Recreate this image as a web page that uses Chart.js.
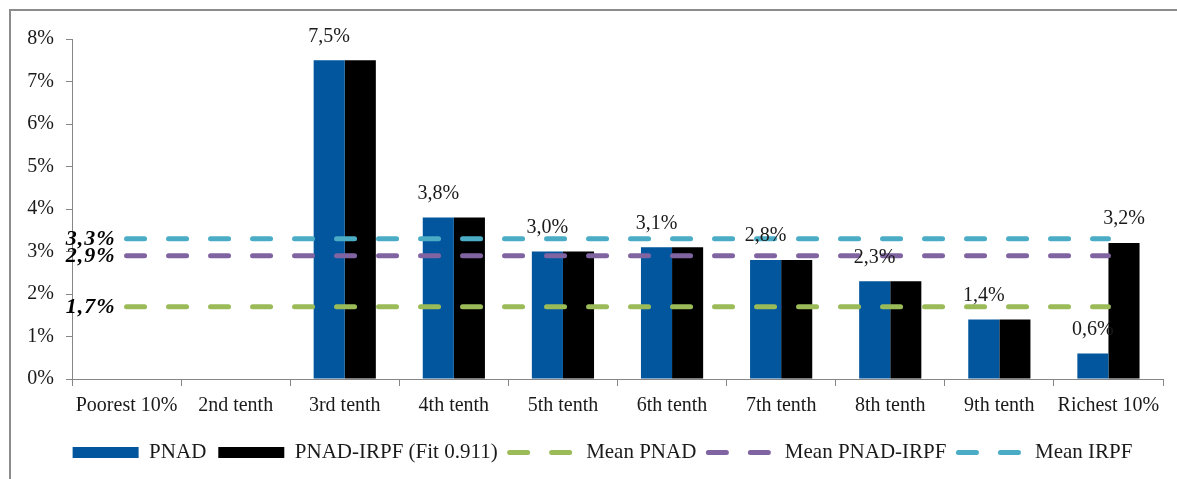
<!DOCTYPE html>
<html>
<head>
<meta charset="utf-8">
<script src="https://cdn.jsdelivr.net/npm/chart.js@4.4.1/dist/chart.umd.min.js"></script>
<style>
  html, body { margin: 0; padding: 0; background: #fff; }
  #wrap { position: relative; width: 1177px; height: 479px; overflow: hidden; }
  #frame { position: absolute; left: 9px; top: 9px; width: 1300px; height: 600px;
           border-top: 2px solid #8c8c8c; border-left: 2px solid #8c8c8c; }
  canvas { position: absolute; left: 0; top: 0; }
</style>
</head>
<body>
<div id="wrap">
  <div id="frame"></div>
  <canvas id="c" width="1177" height="479"></canvas>
</div>
<script>
// Income tenths
const categories = ['Poorest 10%', '2nd tenth', '3rd tenth', '4th tenth', '5th tenth',
                    '6th tenth', '7th tenth', '8th tenth', '9th tenth', 'Richest 10%'];

// Shares by tenth (%)
const pnad     = [null, null, 7.5, 3.8, 3.0, 3.1, 2.8, 2.3, 1.4, 0.6];
const pnadIrpf = [null, null, 7.5, 3.8, 3.0, 3.1, 2.8, 2.3, 1.4, 3.2];

// Means (%)
const meanPnad     = [1.7, 1.7, 1.7, 1.7, 1.7, 1.7, 1.7, 1.7, 1.7, 1.7];
const meanPnadIrpf = [2.9, 2.9, 2.9, 2.9, 2.9, 2.9, 2.9, 2.9, 2.9, 2.9];
const meanIrpf     = [3.3, 3.3, 3.3, 3.3, 3.3, 3.3, 3.3, 3.3, 3.3, 3.3];

// Y axis range
const yMin = 0, yMax = 8, yStep = 1;

const FONT = '"Liberation Serif", "DejaVu Serif", serif';
const AXIS = '#868686';
const TEXT = '#1a1a1a';
const DASH = [18, 24];
const fmt = v => v.toFixed(1).replace('.', ',') + '%';

// Value labels above bars and at the start of each mean line
const labelPlugin = {
  id: 'valueLabels',
  afterDatasetsDraw(chart) {
    const ctx = chart.ctx;
    ctx.save();
    ctx.fillStyle = TEXT;
    ctx.textAlign = 'center';
    ctx.textBaseline = 'middle';
    ctx.font = '20px ' + FONT;
    const m0 = chart.getDatasetMeta(0), m1 = chart.getDatasetMeta(1);
    pnad.forEach((v, i) => {
      if (v) {
        const b = m0.data[i];
        ctx.fillText(fmt(v), b.x, b.y - 24);
      }
      const w = pnadIrpf[i];
      if (w && w !== v) {
        const b = m1.data[i];
        ctx.fillText(fmt(w), b.x, b.y - 24);
      }
    });
    ctx.textAlign = 'right';
    ctx.font = 'italic bold 22px ' + FONT;
    ctx.fillStyle = '#000';
    if ('letterSpacing' in ctx) ctx.letterSpacing = '1px';
    [2, 3, 4].forEach(di => {
      const p = chart.getDatasetMeta(di).data[0];
      const v = chart.data.datasets[di].data[0];
      ctx.fillText(fmt(v), p.x - 11, p.y + 1);
    });
    ctx.restore();
  }
};

// Centre the legend row under the plot rather than under the whole canvas
const legendOffset = {
  id: 'legendOffset',
  afterLayout(chart) {
    if (chart.legend) chart.legend.left = 42;
  }
};

const lineDs = (label, data, color) => ({
  type: 'line', label, data, order: 0,
  borderColor: color, backgroundColor: color,
  borderWidth: 5, borderDash: DASH, borderCapStyle: 'round',
  pointRadius: 0, pointHoverRadius: 0, fill: false, tension: 0
});

const legendLabels = chart => {
  const items = Chart.defaults.plugins.legend.labels.generateLabels(chart);
  items.forEach(it => {
    const ds = chart.data.datasets[it.datasetIndex];
    if (ds.type === 'line') {
      it.pointStyle = 'line';
      it.lineDash = DASH;
      it.lineCap = 'round';
      it.lineWidth = 5;
      it.strokeStyle = ds.borderColor;
      it.fillStyle = ds.borderColor;
    } else {
      it.pointStyle = 'rect';
      it.lineWidth = 0;
      it.fillStyle = ds.backgroundColor;
    }
  });
  return items;
};

new Chart(document.getElementById('c'), {
  type: 'bar',
  data: {
    labels: categories,
    datasets: [
      { label: 'PNAD', data: pnad, backgroundColor: '#02569d', borderWidth: 0,
        order: 1, categoryPercentage: 0.57, barPercentage: 1.0 },
      { label: 'PNAD-IRPF (Fit 0.911)', data: pnadIrpf, backgroundColor: '#000000', borderWidth: 0,
        order: 1, categoryPercentage: 0.57, barPercentage: 1.0 },
      lineDs('Mean PNAD', meanPnad, '#9bbb59'),
      lineDs('Mean PNAD-IRPF', meanPnadIrpf, '#8064a2'),
      lineDs('Mean IRPF', meanIrpf, '#4bacc6')
    ]
  },
  options: {
    responsive: false,
    animation: false,
    devicePixelRatio: 1,
    layout: { padding: { left: 0, right: 14, top: 39, bottom: 6 } },
    scales: {
      x: {
        offset: true,
        grid: { display: true, offset: true, drawOnChartArea: false, drawTicks: true,
                tickLength: 7, color: AXIS },
        border: { display: true, color: AXIS, width: 1 },
        ticks: { color: TEXT, font: { family: FONT, size: 20 }, padding: 8,
                 maxRotation: 0, autoSkip: false },
        afterFit: s => { s.height = 51; }
      },
      y: {
        min: yMin, max: yMax,
        grid: { display: true, drawOnChartArea: false, drawTicks: true, tickLength: 6, color: AXIS },
        border: { display: true, color: AXIS, width: 1 },
        ticks: { stepSize: yStep, color: TEXT, font: { family: FONT, size: 20 }, padding: 12,
                 callback: v => v + '%' },
        afterFit: s => { s.width = 72; }
      }
    },
    plugins: {
      tooltip: { enabled: false },
      legend: {
        position: 'bottom',
        labels: {
          usePointStyle: true, pointStyleWidth: 66, boxHeight: 11,
          color: TEXT, font: { family: FONT, size: 21 }, padding: 12,
          generateLabels: legendLabels,
          sort: (a, b) => a.datasetIndex - b.datasetIndex
        }
      }
    }
  },
  plugins: [labelPlugin, legendOffset]
});
</script>
</body>
</html>
